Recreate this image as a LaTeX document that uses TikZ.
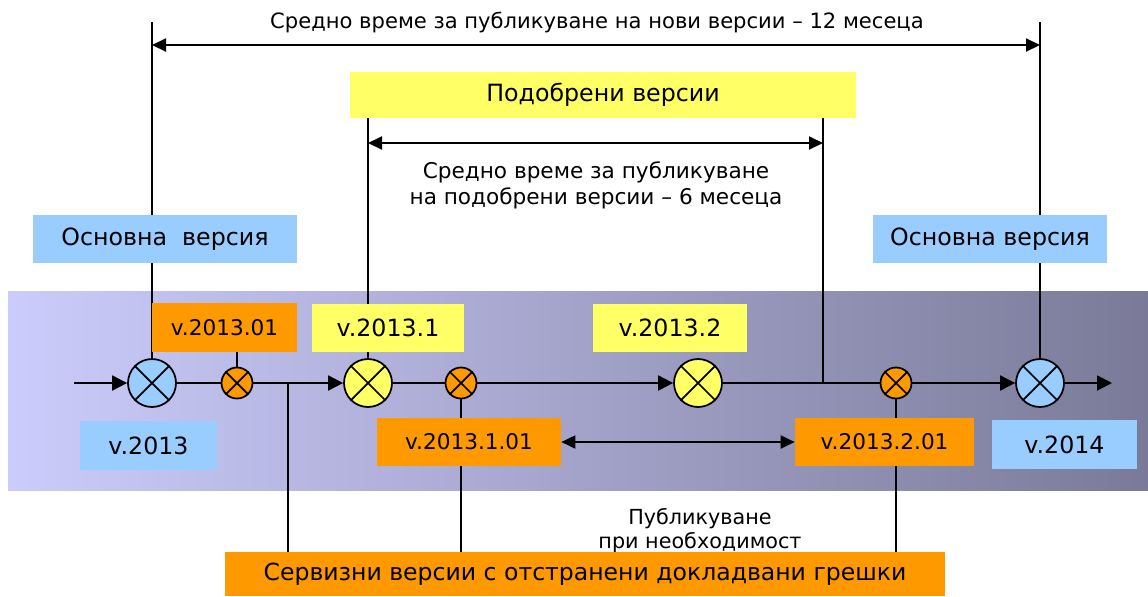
\documentclass[tikz,border=0pt]{standalone}
\usepackage{fontspec}
\setmainfont{DejaVu Sans}
\usetikzlibrary{arrows.meta}

\definecolor{relorange}{HTML}{FF9900}
\definecolor{relyellow}{HTML}{FFFF66}
\definecolor{relblue}{HTML}{99CCFF}
\definecolor{bandleft}{RGB}{204,204,252}
\definecolor{bandright}{RGB}{122,122,152}

\pgfdeclarelayer{band}
\pgfdeclarelayer{wires}
\pgfsetlayers{band,wires,main}

\tikzset{
  tag/.style={inner sep=0pt, font=\fontsize{13.5}{16}\selectfont},
  fixtag/.style={tag, fill=relorange, font=\fontsize{12.3}{14}\selectfont},
  bigx/.style={circle, draw, line width=1pt, minimum size=9.6mm, inner sep=0pt},
  smallx/.style={circle, draw, line width=1pt, minimum size=6.2mm, inner sep=0pt, fill=relorange},
  flow/.style={line width=1.1pt, -{Triangle[length=3mm,width=3mm]}},
  span/.style={line width=1.1pt, {Triangle[length=2.8mm,width=2.6mm]}-{Triangle[length=2.8mm,width=2.6mm]}},
  guide/.style={line width=0.6pt},
  note/.style={align=center, font=\fontsize{12}{14.7}\selectfont},
}

\begin{document}
\begin{tikzpicture}[x=0.02cm, y=-0.02cm]
    \useasboundingbox (0,0) rectangle (1148,596);

    % band
    \begin{pgfonlayer}{band}
    \shade[left color=bandleft, right color=bandright] (8,291) rectangle (1148,490);
    \end{pgfonlayer}

    % releases on the main line
    \node[bigx, fill=relblue] (c13) at (152,383) {};
    \node[smallx] (s1) at (237,383) {};
    \node[bigx, fill=relyellow] (c131) at (368,383) {};
    \node[smallx] (s2) at (461,383) {};
    \node[bigx, fill=relyellow] (c132) at (698,383) {};
    \node[smallx] (s3) at (896,383) {};
    \node[bigx, fill=relblue] (c14) at (1040,383) {};
    \foreach \n in {c13,s1,c131,s2,c132,s3,c14} {
        \draw[line width=1pt] (\n.north east) -- (\n.south west) (\n.north west) -- (\n.south east);
    }

    % boxes
    \node[tag, fill=relyellow, minimum width=101.2mm, minimum height=9.2mm] (improved) at (603,95) {Подобрени версии};
    \node[tag, fill=relblue, minimum width=52.8mm, minimum height=9.6mm] (baseL) at (165,239) {Основна~ версия};
    \node[tag, fill=relblue, minimum width=46.8mm, minimum height=9.6mm] (baseR) at (990,239) {Основна версия};
    \node[fixtag, minimum width=29mm, minimum height=9.8mm] (vA) at (224.5,327.5) {v.2013.01};
    \node[tag, fill=relyellow, minimum width=30.4mm, minimum height=9.6mm] (vB) at (388,328) {v.2013.1};
    \node[tag, fill=relyellow, minimum width=30.8mm, minimum height=9.6mm] (vC) at (670,328) {v.2013.2};
    \node[tag, fill=relblue, minimum width=27.4mm, minimum height=9.8mm] (v13) at (148.5,445.5) {v.2013};
    \node[fixtag, minimum width=36.8mm, minimum height=9.6mm] (vD) at (469,442) {v.2013.1.01};
    \node[fixtag, minimum width=35.8mm, minimum height=9.6mm] (vE) at (884.5,442) {v.2013.2.01};
    \node[tag, fill=relblue, minimum width=29mm, minimum height=9.8mm] (v14) at (1064.5,444.5) {v.2014};

    % texts
    \node[note] (topLbl) at (597,22) {Средно време за публикуване на нови версии – 12 месеца};
    \node[note, font=\fontsize{12.3}{14.7}\selectfont] (midLbl) at (596,185) {Средно време за публикуване\\на подобрени версии – 6 месеца};
    \node[note, font=\fontsize{11.8}{13.6}\selectfont] (pubLbl) at (700,531) {Публикуване\\при необходимост};
    \node[tag, fill=relorange, minimum width=144mm, minimum height=8.8mm, font=\fontsize{13.4}{15}\selectfont] (service) at (585,574) {Сервизни версии с отстранени докладвани грешки};

    % connectors
    \coordinate (in) at (74,383);
    \coordinate (out) at (1112,383);
    \coordinate (j1) at (288,383);
    \coordinate (j2) at (823,383);
    \coordinate (tl) at (152,22);
    \coordinate (tr) at (1040,22);
    \coordinate (spanL) at (152,45);
    \coordinate (spanR) at (1040,45);
    \coordinate (impL) at (368,143);
    \coordinate (impR) at (823,143);

    \begin{pgfonlayer}{wires}
    \draw[flow] (in) -- (c13);
    \draw[flow] (c13) -- (s1) -- (c131);
    \draw[flow] (c131) -- (s2) -- (c132);
    \draw[flow] (c132) -- (s3) -- (c14);
    \draw[flow] (c14) -- (out);

    \draw[guide] (c13) -- (tl);
    \draw[guide] (c14) -- (tr);
    \draw[guide] (c131) -- (c131 |- improved.south);
    \draw[guide] (j2) -- (j2 |- improved.south);
    \draw[guide] (s1) -- (s1 |- vA.south);
    \draw[guide] (s2) -- (s2 |- service.north);
    \draw[guide] (s3) -- (s3 |- service.north);
    \draw[guide] (j1) -- (j1 |- service.north);

    \draw[span] (spanL) -- (spanR);
    \draw[span] (impL) -- (impR);
    \draw[span] (vD) -- (vE);
    \end{pgfonlayer}
\end{tikzpicture}
\end{document}
